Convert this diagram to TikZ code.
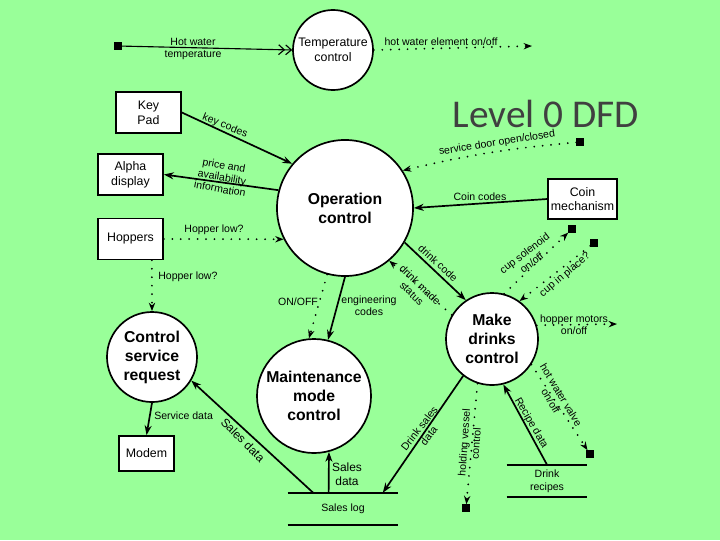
\documentclass[tikz,border=0pt]{standalone}
\usepackage{fontspec}
\setmainfont{Liberation Sans}
\newfontfamily\titlefont{Carlito}
\usetikzlibrary{arrows.meta,calc}
\definecolor{slidegreen}{RGB}{153,255,153}
\definecolor{titlegray}{RGB}{64,64,64}

\begin{document}
\begin{tikzpicture}[x=0.025cm, y=-0.025cm,
        bubble/.style={circle, draw, line width=1.2pt, fill=white, inner sep=0pt, align=center},
        boldtext/.style={font=\bfseries\fontsize{11.2}{13.5}\selectfont},
        entity/.style={rectangle, draw, line width=1.2pt, fill=white, inner sep=1pt, align=center,
            font=\fontsize{8.8}{10.5}\selectfont, minimum width=1.625cm, minimum height=1.025cm},
        store/.style={rectangle, inner sep=0pt, align=center, font=\fontsize{7.5}{9}\selectfont},
        storeline/.style={line width=1.2pt},
        term/.style={rectangle, fill=black, inner sep=0pt, minimum size=5pt},
        flow/.style={line width=1.2pt, -{Stealth[length=7pt, width=5pt]}},
        signal/.style={line width=1.4pt, line cap=round, dash pattern=on 0pt off 6pt,
            -{Stealth[length=6pt, width=4.5pt]}},
        lbl/.style={inner sep=0pt, align=center, font=\fontsize{7.5}{8.5}\selectfont},
        biglbl/.style={inner sep=0pt, align=center, font=\fontsize{8.5}{10}\selectfont}]
        \useasboundingbox (0,0) rectangle (720,540);
        \fill [slidegreen] (0,0) rectangle (720,540);

        \node [titlegray, font=\titlefont\fontsize{28}{34}\selectfont] (title) at (546,114) {Level 0 DFD};

        \node [bubble, minimum size=2cm, font=\fontsize{8.8}{10.6}\selectfont] (tempctrl) at (333,50) {Temperature\\control};
        \node [bubble, boldtext, minimum size=3.4cm] (opctrl) at (345,208) {Operation\\control};
        \node [bubble, boldtext, minimum size=2.3cm] (makedr) at (492,339) {Make\\drinks\\control};
        \node [bubble, boldtext, minimum size=2.85cm] (maint) at (314,396) {Maintenance\\mode\\control};
        \node [bubble, boldtext, minimum size=2.25cm] (csr) at (152,357) {Control\\service\\request};

        \node [entity] (keypad) at (148.5,112.5) {Key\\Pad};
        \node [entity] (alpha) at (130.5,174.5) {Alpha\\display};
        \node [entity] (hoppers) at (130.5,239) {Hoppers};
        \node [entity, minimum width=1.725cm, minimum height=1cm] (coin) at (582.5,199) {Coin\\mechanism};
        \node [entity, minimum width=1.375cm, minimum height=0.875cm] (modem) at (146.5,453.5) {Modem};

        \node [store, minimum width=2.75cm, minimum height=0.8cm] (saleslog) at (343,509) {Sales log};
        \node [store, minimum width=2cm, minimum height=0.8cm] (recipes) at (547,481) {Drink\\recipes};
        \draw [storeline] (saleslog.north west) -- (saleslog.north east);
        \draw [storeline] (saleslog.south west) -- (saleslog.south east);
        \draw [storeline] (recipes.north west) -- (recipes.north east);
        \draw [storeline] (recipes.south west) -- (recipes.south east);

        \node [term] (sqhwt) at (118,46) {};
        \node [term] (sqdoor) at (580,142) {};
        \node [term] (sqsol) at (572,229) {};
        \node [term] (sqcup) at (594,243) {};
        \node [term] (sqvalve) at (590,454) {};
        \node [term] (sqvessel) at (466,508) {};
        \coordinate (hweend) at (532,46);
        \coordinate (hmend) at (617,324);

        \draw [line width=0.8pt, -{Straight Barb[length=4pt, width=7pt] Straight Barb[length=4pt, width=7pt]}] (sqhwt) -- (tempctrl.west);
        \draw [signal] (tempctrl.east) -- (hweend);
        \draw [flow] (keypad.east) -- (opctrl.140);
        \draw [flow] (opctrl.165) -- (alpha.east);
        \draw [signal] (hoppers.east) -- (opctrl.207);
        \draw [signal] (hoppers.-45) -- (csr.north);
        \draw [signal] (sqdoor) to [bend right=4] (opctrl.33);
        \draw [flow] (coin.west) -- (opctrl.east);
        \draw [flow] (opctrl.-30) -- (makedr.124);
        \draw [signal] (makedr.149) -- (opctrl.-50);
        \draw [flow] (opctrl.south) -- (maint.76);
        \draw [signal] (opctrl.-105) -- (maint.95);
        \draw [signal] (makedr.75) -- (sqsol);
        \draw [signal] (sqcup) -- (makedr.54);
        \draw [signal] (makedr.17) -- (hmend);
        \draw [signal] (makedr.-33) -- (sqvalve);
        \draw [flow] (recipes.north) -- (makedr.-76);
        \draw [flow] (makedr.-128) -- ($(saleslog.north west)!0.86!(saleslog.north east)$);
        \draw [signal] (makedr.-108) -- (sqvessel);
        \draw [flow] ($(saleslog.north west)!0.37!(saleslog.north east)$) -- (maint.-75);
        \draw [flow] ($(saleslog.north west)!0.23!(saleslog.north east)$) -- (csr.-31);
        \draw [flow] (csr.south) -- (modem.north);

        \node [lbl] (lhwt) at (193,49) {Hot water\\temperature};
        \node [lbl] (lhwe) at (441,42) {hot water element on/off};
        \node [lbl, rotate=-22] (lkey) at (225,126) {key codes};
        \node [lbl, rotate=-10] (lprice) at (222,177) {price and\\availability\\information};
        \node [lbl] (lhop1) at (214,230) {Hopper low?};
        \node [lbl, anchor=west] (lhop2) at (158,277) {Hopper low?};
        \node [lbl, rotate=9] (ldoor) at (497,143) {service door open/closed};
        \node [lbl] (lcoin) at (480,197) {Coin codes};
        \node [lbl, rotate=-42] (ldcode) at (438,263) {drink code};
        \node [lbl, rotate=-44] (ldmade) at (416,289) {drink made\\status};
        \node [lbl] (leng) at (369,306) {engineering\\codes};
        \node [lbl] (lonoff) at (298,302) {ON/OFF};
        \node [lbl, rotate=37] (lsol) at (528,258) {cup solenoid\\on/off};
        \node [lbl, rotate=40] (lcup) at (565,275) {cup in place?};
        \node [lbl] (lhm) at (574,325) {hopper motors\\on/off};
        \node [lbl, rotate=-59] (lvalve) at (556,398) {hot water valve\\on/off};
        \node [lbl, rotate=-60] (lrecipe) at (531,423) {Recipe data};
        \node [lbl, rotate=52] (ldsales) at (424,432) {Drink sales\\data};
        \node [lbl, rotate=86] (lvessel) at (470,443) {holding vessel\\control};
        \node [biglbl] (lsd1) at (347,474) {Sales\\data};
        \node [biglbl, rotate=-45] (lsd2) at (243,440) {Sales data};
        \node [lbl, anchor=west] (lsvc) at (154,416) {Service data};
    \end{tikzpicture}
\end{document}
